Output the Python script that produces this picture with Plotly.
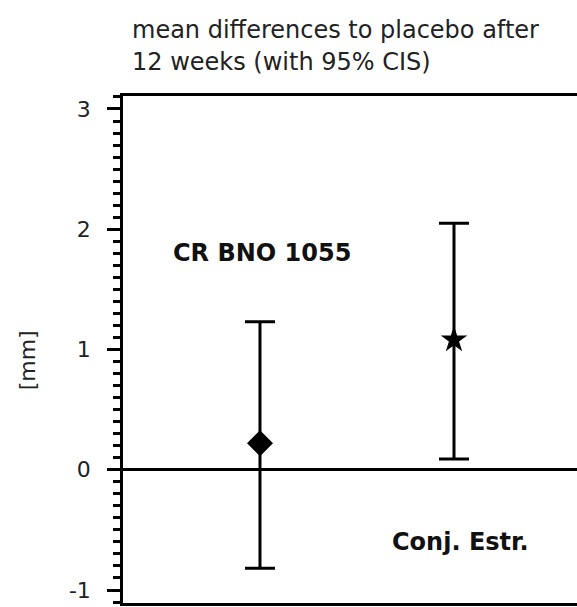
import plotly.graph_objects as go

# Data
groups = ["CR BNO 1055", "Conj. Estr."]
x_pos = [1, 2]
means = [0.22, 1.08]
ci_upper = [1.23, 2.05]
ci_lower = [-0.82, 0.09]
symbols = ["diamond", "star"]
y_ticks = [-1, 0, 1, 2, 3]

err_plus = [u - m for u, m in zip(ci_upper, means)]
err_minus = [m - l for m, l in zip(means, ci_lower)]

fig = go.Figure()
for i in range(len(groups)):
    fig.add_trace(go.Scatter(
        x=[x_pos[i]], y=[means[i]], mode="markers",
        marker=dict(symbol=symbols[i], size=20, color="black"),
        error_y=dict(type="data", symmetric=False, array=[err_plus[i]],
                     arrayminus=[err_minus[i]], color="black",
                     thickness=3, width=15),
        showlegend=False, name=groups[i]))

FONT = "DejaVu Sans, Arial, sans-serif"

fig.update_layout(
    width=577, height=607,
    margin=dict(l=123, r=0, t=96, b=4),
    paper_bgcolor="white", plot_bgcolor="white",
    font=dict(family=FONT, color="#222"),
    xaxis=dict(range=[0.294, 2.634], showline=True, mirror=True,
               linecolor="black", linewidth=2.5, showgrid=False,
               zeroline=False, showticklabels=False, ticks=""),
    yaxis=dict(range=[-1.108, 3.108], showline=True, mirror=False,
               linecolor="black", linewidth=2.5, showgrid=False,
               zeroline=True, zerolinecolor="black", zerolinewidth=2.5,
               tickmode="array", tickvals=y_ticks,
               ticktext=[str(v) for v in y_ticks],
               ticks="outside", ticklen=13, tickwidth=2.5,
               tickcolor="black", ticklabelstandoff=12,
               tickfont=dict(size=22, family=FONT, color="#222"),
               minor=dict(dtick=0.1, ticks="outside", ticklen=7,
                          tickwidth=2.5, tickcolor="black", showgrid=False)),
    annotations=[
        dict(text="mean differences to placebo after", xref="paper", yref="paper",
             x=0.015, y=1.130, xanchor="left", yanchor="middle", showarrow=False,
             font=dict(size=24, family=FONT, color="#222")),
        dict(text="12 weeks (with 95% CIS)", xref="paper", yref="paper",
             x=0.015, y=1.067, xanchor="left", yanchor="middle", showarrow=False,
             font=dict(size=24, family=FONT, color="#222")),
        dict(text="<b>" + groups[0] + "</b>", xref="x", yref="y",
             x=1.01, y=1.80, xanchor="center", yanchor="middle", showarrow=False,
             font=dict(size=24, family=FONT, color="#111")),
        dict(text="<b>" + groups[1] + "</b>", xref="x", yref="y",
             x=2.036, y=-0.60, xanchor="center", yanchor="middle", showarrow=False,
             font=dict(size=24, family=FONT, color="#111")),
        dict(text="[mm]", xref="paper", yref="paper", x=-0.211, y=0.479,
             xanchor="center", yanchor="middle", textangle=-90, showarrow=False,
             font=dict(size=22, family=FONT, color="#222")),
    ],
)

fig.write_html("out.html")
